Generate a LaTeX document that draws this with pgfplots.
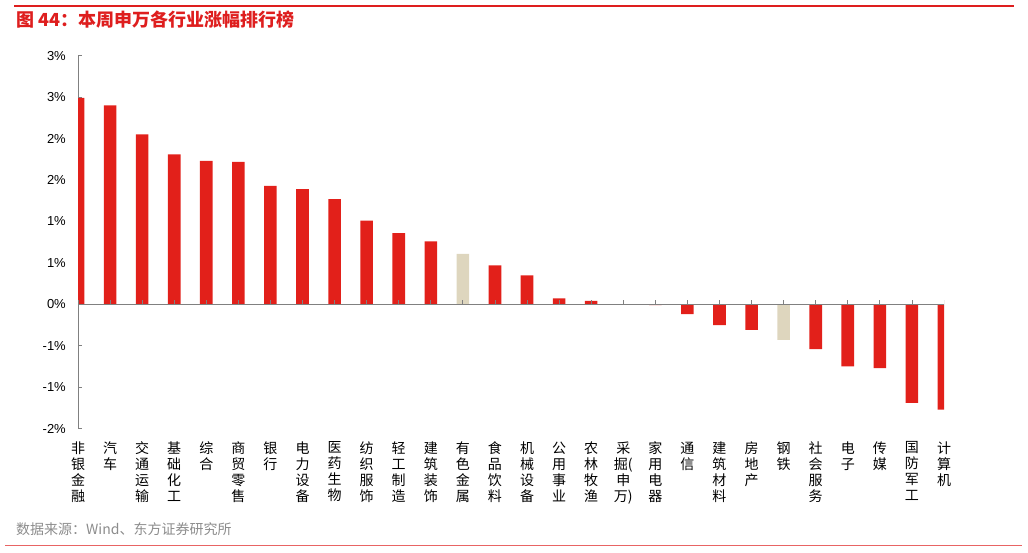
\documentclass[border=0pt]{standalone}
\usepackage{fontspec}
\setmainfont{Liberation Sans}
\newfontfamily\cjk{Noto Sans CJK SC}
\usepackage{pgfplots}
\pgfplotsset{compat=1.18}
\definecolor{barred}{RGB}{226,32,26}
\definecolor{beige}{RGB}{222,214,190}
\definecolor{titlered}{RGB}{222,30,30}
\definecolor{linepink}{RGB}{232,100,100}
\definecolor{axgray}{RGB}{128,128,128}
\begin{document}
\begin{tikzpicture}
\path (0pt,0pt) rectangle (1028pt,552pt);
\draw[titlered, line width=1.3pt] (14pt,546pt) -- (1014pt,546pt);
\draw[linepink, line width=1.3pt] (5pt,6.3pt) -- (1022pt,6.3pt);
\node[anchor=west, inner sep=0pt, text=titlered, font=\cjk\bfseries\fontsize{18}{20}\selectfont] at (16pt,532pt) {图 44：本周申万各行业涨幅排行榜};
\node[anchor=west, inner sep=0pt, text=black!45, font=\cjk\fontsize{14}{16}\selectfont] at (16pt,23pt) {数据来源：Wind、东方证券研究所};
\begin{axis}[
  at={(78pt,123.4pt)}, anchor=south west,
  scale only axis, width=866pt, height=372.9pt,
  xmin=0, xmax=27, ymin=-1.5, ymax=3,
  axis y line*=left, axis x line*=bottom,
  x axis line style={draw=none},
  y axis line style={axgray, line width=0.8pt},
  xtick={0,...,27},
  xtick style={draw=none},
  xticklabels={{非\\银\\金\\融},{汽\\车},{交\\通\\运\\输},{基\\础\\化\\工},{综\\合},{商\\贸\\零\\售},{银\\行},{电\\力\\设\\备},{医\\药\\生\\物},{纺\\织\\服\\饰},{轻\\工\\制\\造},{建\\筑\\装\\饰},{有\\色\\金\\属},{食\\品\\饮\\料},{机\\械\\设\\备},{公\\用\\事\\业},{农\\林\\牧\\渔},{采\\掘(\\申\\万)},{家\\用\\电\\器},{通\\信},{建\\筑\\材\\料},{房\\地\\产},{钢\\铁},{社\\会\\服\\务},{电\\子},{传\\媒},{国\\防\\军\\工},{计\\算\\机}},
  xticklabel style={font=\cjk\fontsize{14}{16}\selectfont, align=center, anchor=north, inner sep=0pt, yshift=-9pt},
  ytick={-1.5,-1,-0.5,0,0.5,1,1.5,2,2.5,3},
  yticklabels={-2\%,-1\%,-1\%,0\%,1\%,1\%,2\%,2\%,3\%,3\%},
  yticklabel style={font=\fontsize{13}{15}\selectfont, anchor=east, inner sep=0pt, xshift=-12pt},
  /pgf/number format/assume math mode=true,
  ytick style={axgray, line width=0.8pt},
  tick align=inside, major tick length=4pt,
  ybar, bar width=12.6pt, bar shift=0pt,
  clip=true,
]
\addplot[fill=barred, draw=none] coordinates {
 (0,2.49) (1,2.40) (2,2.05) (3,1.81) (4,1.73) (5,1.72) (6,1.43) (7,1.39)
 (8,1.27) (9,1.01) (10,0.86) (11,0.76) (13,0.47) (14,0.35) (15,0.07)
 (16,0.04) (17,0.00) (18,-0.01) (19,-0.12) (20,-0.25) (21,-0.31)
 (23,-0.54) (24,-0.75) (25,-0.77) (26,-1.19) (27,-1.27)};
\addplot[fill=beige, draw=none] coordinates {(12,0.61) (22,-0.43)};
\draw[axgray, line width=0.8pt] (axis cs:0,0) -- (axis cs:27,0);
\pgfplotsinvokeforeach{0,...,27}{\draw[axgray, line width=0.8pt] (axis cs:#1,0) -- ([yshift=4pt]axis cs:#1,0);}
\end{axis}
\end{tikzpicture}
\end{document}
